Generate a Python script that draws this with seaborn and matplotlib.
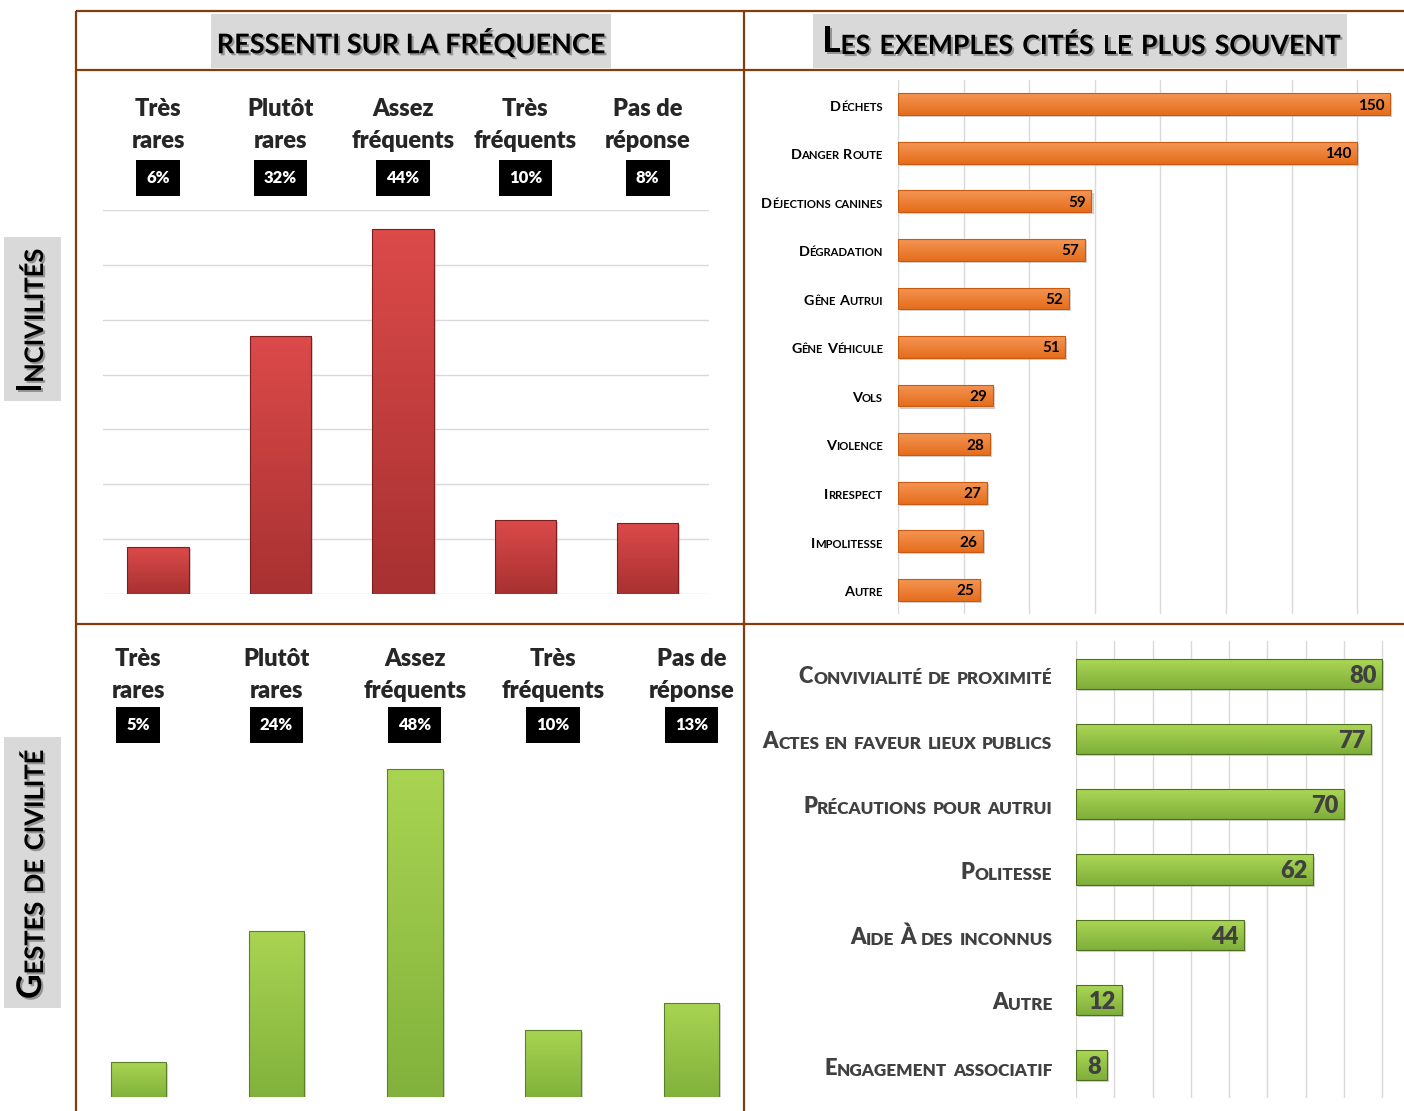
import itertools
import numpy as np
import pandas as pd
import matplotlib
matplotlib.use("Agg")
import matplotlib.pyplot as plt
import matplotlib.patheffects as pe
import matplotlib.transforms as mtrans
from matplotlib.colors import LinearSegmentedColormap
from matplotlib.patches import Rectangle
import seaborn as sns

# Data
freq_cats = ["Très\nrares", "Plutôt\nrares", "Assez\nfréquents", "Très\nfréquents", "Pas de\nréponse"]
incivil_counts = [17, 94, 133, 27, 26]
incivil_pct = ["6%", "32%", "44%", "10%", "8%"]
civil_counts = [5.1, 24.2, 48, 9.8, 13.8]
civil_pct = ["5%", "24%", "48%", "10%", "13%"]

incivil_examples = ["Déchets", "Danger Route", "Déjections canines", "Dégradation",
                    "Gêne Autrui", "Gêne Véhicule", "Vols", "Violence", "Irrespect",
                    "Impolitesse", "Autre"]
incivil_ex_vals = [150, 140, 59, 57, 52, 51, 29, 28, 27, 26, 25]

civil_examples = ["Convivialité de proximité", "Actes en faveur lieux publics",
                  "Précautions pour autrui", "Politesse", "Aide À des inconnus",
                  "Autre", "Engagement associatif"]
civil_ex_vals = [80, 77, 70, 62, 44, 12, 8]

W, H = 1404, 1111
BROWN = "#843c0c"
GRID = "#d9d9d9"

sns.set_theme(style="white")
plt.rcParams["font.family"] = ["Lato", "DejaVu Sans"]

fig = plt.figure(figsize=(W / 100, H / 100), dpi=100)

# background axes in pixel coords (y down)
bg = fig.add_axes([0, 0, 1, 1])
bg.set_xlim(0, W)
bg.set_ylim(H, 0)
bg.axis("off")


def px_axes(x0, y0, x1, y1):
    a = fig.add_axes([x0 / W, 1 - y1 / H, (x1 - x0) / W, (y1 - y0) / H])
    a.set_facecolor("none")
    return a


def sc_runs(s):
    runs = []
    for word in s.split():
        start = True
        for big, grp in itertools.groupby(word, key=lambda c: not c.islower()):
            runs.append(("".join(grp).upper(), big, start))
            start = False
    return runs


def small_caps(tax, xy, s, size, coords, ha="left", rot=0, off=(0, 0), ratio=0.78, **kw):
    runs = sc_runs(s)
    gap = size * 0.26
    order = runs[::-1] if ha == "right" else runs
    prev, prev_start = None, False
    for txt, big, start in order:
        fs = size if big else size * ratio
        style = dict(fontsize=fs, rotation=rot, annotation_clip=False,
                     textcoords="offset points", **kw)
        if rot == 0:
            if prev is None:
                t = tax.annotate(txt, xy, xycoords=coords, xytext=off, ha=ha, va="bottom", **style)
            elif ha == "right":
                g = gap if prev_start else 0
                t = tax.annotate(txt, (0, 0), xycoords=prev, xytext=(-g, 0),
                                 ha="right", va="bottom", **style)
            else:
                g = gap if start else 0
                t = tax.annotate(txt, (1, 0), xycoords=prev, xytext=(g, 0),
                                 ha="left", va="bottom", **style)
        else:
            if prev is None:
                t = tax.annotate(txt, xy, xycoords=coords, xytext=off, ha="right", va="bottom", **style)
            else:
                g = gap if start else 0
                t = tax.annotate(txt, (1, 1), xycoords=prev, xytext=(0, g),
                                 ha="right", va="bottom", **style)
        prev, prev_start = t, start


def shade(ax, c_top, c_bot, edge, horizontal=False):
    cmap = LinearSegmentedColormap.from_list("g", [c_top, c_bot])
    grad = np.linspace(0, 1, 100).reshape(-1, 1)
    for p in list(ax.patches):
        x0, y0, w, h = p.get_x(), p.get_y(), p.get_width(), p.get_height()
        ext = [x0, x0 + w, y0 + h, y0] if horizontal else [x0, x0 + w, y0, y0 + h]
        p.set_path_effects([pe.withSimplePatchShadow(offset=(1.5, -1.5), shadow_rgbFace="#999999", alpha=0.5)])
        im = ax.imshow(grad, cmap=cmap, extent=ext, origin="upper", aspect="auto",
                       interpolation="bicubic", zorder=p.get_zorder() + 0.1)
        im.set_clip_path(p)
        ax.add_patch(Rectangle((x0, y0), w, h, fill=False, ec=edge, lw=0.8,
                               zorder=p.get_zorder() + 0.2))


def clean(ax):
    ax.set_xlabel("")
    ax.set_ylabel("")
    ax.tick_params(labelbottom=False, labelleft=False, length=0)
    sns.despine(ax=ax, left=True, bottom=True)


# frame lines and header boxes
for (x0, y0, x1, y1) in [(76, 11, 76, 1111), (76, 11, 1404, 11), (76, 70, 1404, 70),
                         (76, 624, 1404, 624), (744, 11, 744, 1111)]:
    bg.plot([x0, x1], [y0, y1], color=BROWN, lw=1.6, solid_capstyle="butt")

for (x, y, w, h) in [(211, 14, 400, 54), (813, 14, 534, 54), (4, 237, 57, 164), (4, 737, 57, 271)]:
    bg.add_patch(Rectangle((x, y), w, h, color="#d9d9d9", lw=0))

shadow = [pe.withSimplePatchShadow(offset=(1.5, -1.5), shadow_rgbFace="#666666", alpha=0.6)]
bg.text(411, 43, "RESSENTI SUR LA FRÉQUENCE", ha="center", va="center", fontsize=19.5,
        fontweight="bold", fontstretch="condensed", color="black", path_effects=shadow)
small_caps(bg, (822, 58), "Les exemples cités le plus souvent", 25.5, "data", ha="left",
           ratio=0.75, fontweight="bold", color="black", path_effects=shadow)
small_caps(bg, (47, 393), "Incivilités", 24.5, "data", rot=90, ratio=0.75,
           fontweight="bold", color="black", path_effects=shadow)
small_caps(bg, (47, 999), "Gestes de civilité", 24.5, "data", rot=90, ratio=0.75,
           fontweight="bold", color="black", path_effects=shadow)

# top-left: incivilités frequency
ax1 = px_axes(103, 210, 709, 594)
df1 = pd.DataFrame({"cat": freq_cats, "n": incivil_counts})
sns.barplot(data=df1, x="cat", y="n", ax=ax1, color="#d74141", width=0.5, saturation=1)
shade(ax1, "#dc4a4a", "#a83131", "#7a1f1f")
ax1.set_ylim(0, 140)
ax1.set_xlim(-0.45, 4.5)
ax1.set_yticks(range(0, 141, 20))
ax1.grid(True, axis="y", color=GRID, lw=1)
ax1.set_axisbelow(True)
clean(ax1)

tr1 = mtrans.blended_transform_factory(ax1.transData, bg.transData)
for i, (lab, pct) in enumerate(zip(freq_cats, incivil_pct)):
    ax1.text(i, 125, lab, transform=tr1, ha="center", va="center", fontsize=17,
             fontweight="heavy", linespacing=1.5)
    ax1.text(i, 178, pct, transform=tr1, ha="center", va="center", fontsize=12,
             fontweight="heavy", color="white",
             bbox=dict(boxstyle="square,pad=0.6", fc="black", ec="none"))

# bottom-left: civilité frequency
ax2 = px_axes(76, 755, 744, 1097)
df2 = pd.DataFrame({"cat": freq_cats, "n": civil_counts})
sns.barplot(data=df2, x="cat", y="n", ax=ax2, color="#9bc84a", width=0.4, saturation=1)
shade(ax2, "#a9d452", "#82b23c", "#5c7f2a")
ax2.set_ylim(0, 50)
ax2.set_xlim(-0.45, 4.38)
clean(ax2)

tr2 = mtrans.blended_transform_factory(ax2.transData, bg.transData)
for i, (lab, pct) in enumerate(zip(freq_cats, civil_pct)):
    ax2.text(i, 675, lab, transform=tr2, ha="center", va="center", fontsize=17,
             fontweight="heavy", linespacing=1.5)
    ax2.text(i, 725, pct, transform=tr2, ha="center", va="center", fontsize=12,
             fontweight="heavy", color="white",
             bbox=dict(boxstyle="square,pad=0.6", fc="black", ec="none"))

# top-right: incivilités examples
ax3 = px_axes(898, 80, 1404, 614)
df3 = pd.DataFrame({"ex": incivil_examples, "v": incivil_ex_vals})
sns.barplot(data=df3, y="ex", x="v", ax=ax3, orient="h", color="#f07f2d", width=0.45, saturation=1)
shade(ax3, "#f49654", "#e56d1c", "#c85a12", horizontal=True)
ax3.set_xlim(0, 154.3)
ax3.set_ylim(10.5, -0.5)
ax3.set_xticks(range(0, 141, 20))
ax3.grid(True, axis="x", color=GRID, lw=1)
ax3.set_axisbelow(True)
clean(ax3)
for i, (name, v) in enumerate(zip(incivil_examples, incivil_ex_vals)):
    small_caps(ax3, (0, i), name, 10.4, ax3.get_yaxis_transform(), ha="right",
               off=(-11, -6), fontweight="bold", color="black")
    ax3.annotate(str(v), (v, i), xytext=(-4, 0), textcoords="offset points",
                 ha="right", va="center_baseline", fontsize=11, fontweight="bold",
                 color="black", zorder=5)

# bottom-right: civilité examples
ax4 = px_axes(1076, 641, 1384, 1098)
df4 = pd.DataFrame({"ex": civil_examples, "v": civil_ex_vals})
sns.barplot(data=df4, y="ex", x="v", ax=ax4, orient="h", color="#9bc84a", width=0.46, saturation=1)
shade(ax4, "#add856", "#7fae3a", "#4f6e22", horizontal=True)
ax4.set_xlim(0, 80.5)
ax4.set_ylim(6.5, -0.5)
ax4.set_xticks(range(0, 81, 10))
ax4.grid(True, axis="x", color=GRID, lw=1)
ax4.set_axisbelow(True)
clean(ax4)
for i, (name, v) in enumerate(zip(civil_examples, civil_ex_vals)):
    small_caps(ax4, (0, i), name, 15.8, ax4.get_yaxis_transform(), ha="right",
               off=(-17, -9.5), fontweight="heavy", color="#404040")
    ax4.annotate(str(v), (v, i), xytext=(-4, 0), textcoords="offset points",
                 ha="right", va="center_baseline", fontsize=17, fontweight="heavy",
                 color="#404040", zorder=5)

fig.savefig("out.png", dpi=100)
